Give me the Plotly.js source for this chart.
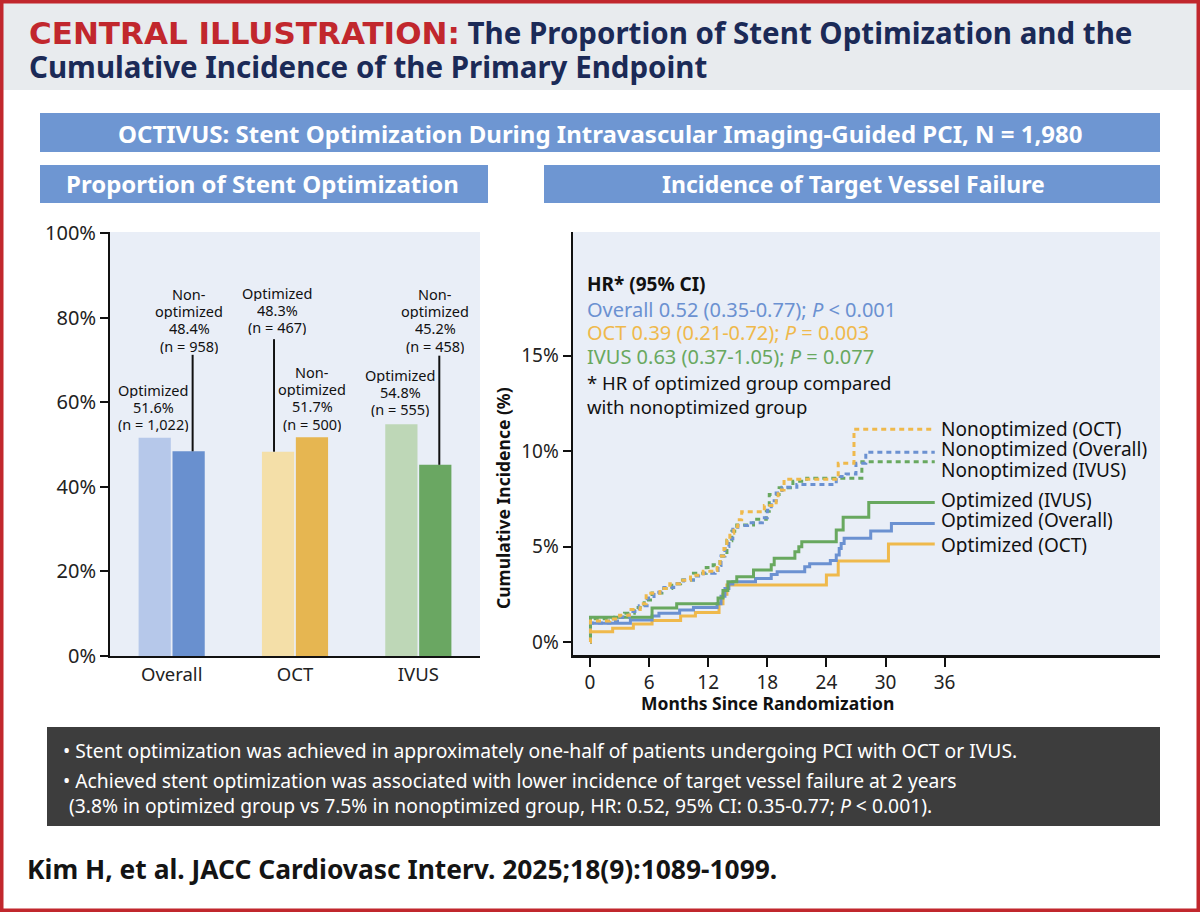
<!DOCTYPE html>
<html><head><meta charset="utf-8">
<script src="https://cdn.plot.ly/plotly-3.0.1.min.js"></script>
<style>html,body{margin:0;padding:0;background:#fff}#chart{width:1200px;height:912px}</style>
</head><body><div id="chart"></div>
<script>
// ---------- DATA ----------
const groups = ['Overall', 'OCT', 'IVUS'];
const optimizedPct = [51.6, 48.3, 54.8];
const optimizedN = ['1,022', '467', '555'];
const nonoptimizedPct = [48.4, 51.7, 45.2];
const nonoptimizedN = ['958', '500', '458'];
const barTicks = [0, 20, 40, 60, 80, 100];
const barTickText = ['0%', '20%', '40%', '60%', '80%', '100%'];

const kmTicksX = [0, 6, 12, 18, 24, 30, 36];
const kmTicksY = [0, 5, 10, 15];
const kmTickTextY = ['0%', '5%', '10%', '15%'];

const optOverallM = [0,0.05,4.1,6.3,7.0,9.1,10.5,12.9,13.3,13.7,14.1,14.5,16.8,18.4,19.0,21.8,22.3,24.4,25.0,25.3,25.5,25.8,28.5,30.6,35.0];
const optOverallV = [0,0.98,1.15,1.36,1.5,1.68,1.8,2.0,2.4,2.8,3.04,3.16,3.33,3.54,3.68,3.94,4.1,4.27,4.55,4.9,5.16,5.43,5.81,6.21,6.21];
const optOctM = [0,0.05,2.3,4.4,6.3,9.2,10.7,13.1,13.5,13.9,24.0,25.2,30.3,35.0];
const optOctV = [0,0.54,0.72,0.94,1.12,1.36,1.54,2.0,2.5,2.98,3.51,4.24,5.13,5.13];
const optIvusM = [0,0.05,6.3,8.8,13.0,13.5,14.0,14.9,16.6,18.4,18.7,20.8,21.2,21.5,25.0,25.7,28.3,35.0];
const optIvusV = [0,1.29,1.78,2.0,2.3,2.7,3.16,3.42,3.77,4.04,4.38,4.73,4.99,5.25,5.86,6.53,7.31,7.31];
const nonOctM = [0,0.05,2.0,3.0,4.0,5.1,5.7,7.1,8.1,9.1,10.2,11.5,12.7,12.9,13.2,13.6,13.9,14.2,14.6,15.0,15.4,17.7,18.9,19.1,19.7,25.2,26.8,35.0];
const nonOctV = [0,1.1,1.2,1.4,1.7,2.0,2.55,2.8,3.05,3.23,3.49,3.7,3.75,4.0,4.5,4.9,5.34,5.7,6.03,6.4,6.82,7.15,7.5,7.96,8.52,9.36,11.14,11.14];
const nonOverallM = [0,0.05,2.0,3.0,4.0,5.0,5.8,6.5,7.5,8.5,9.5,10.5,11.5,12.7,13.0,13.3,13.7,14.1,14.5,15.0,16.0,17.5,18.0,18.4,18.9,19.5,21.0,25.0,26.0,27.0,28.0,35.0];
const nonOverallV = [0,1.0,1.1,1.3,1.6,1.9,2.3,2.6,2.85,3.05,3.25,3.45,3.6,3.75,4.0,4.5,5.0,5.4,5.9,6.1,6.25,6.5,6.9,7.4,7.8,8.1,8.25,8.66,8.8,9.36,9.93,9.93];
const nonIvusM = [0,0.05,2.5,3.5,4.5,5.5,6.3,7.3,8.3,9.2,10.5,11.8,12.5,13.2,13.9,14.4,14.9,16.6,17.9,18.2,19.2,20.6,22.0,27.6,35.0];
const nonIvusV = [0,1.22,1.3,1.5,1.8,2.2,2.57,2.8,3.05,3.25,3.6,3.9,4.04,4.5,5.3,5.8,6.12,6.43,6.85,7.72,8.07,8.42,8.57,9.44,9.44];

const hrGroups = ['Overall', 'OCT', 'IVUS'];
const hrValue = ['0.52', '0.39', '0.63'];
const hrCI = ['0.35-0.77', '0.21-0.72', '0.37-1.05'];
const hrP = ['&lt; 0.001', '= 0.003', '= 0.077'];

// ---------- STYLE ----------
const W = 1200, H = 912;
const P = x => x / W, Q = y => 1 - y / H;
const FONT = 'Noto Sans, Open Sans, sans-serif';
const BLUE = '#6b91d1', ORANGE = '#efb94c', GREEN = '#68a85f';
const lightCols = ['#b6c8ea', '#f4dfa8', '#bed7b7'];
const darkCols = ['#6990cf', '#e6b651', '#6aa762'];
const BANNER = '#6e96d2';

const data = [
  {type:'bar', x: groups, y: optimizedPct, marker:{color: lightCols}, xaxis:'x', yaxis:'y', hoverinfo:'skip'},
  {type:'bar', x: groups, y: nonoptimizedPct, marker:{color: darkCols}, xaxis:'x', yaxis:'y', hoverinfo:'skip'}
];
function km(m, v, col, dashed) {
  return {type:'scatter', mode:'lines', x:m, y:v, xaxis:'x2', yaxis:'y2',
    line:{shape:'hv', color:col, width:3, dash: dashed ? '5px,4px' : 'solid'}, hoverinfo:'skip'};
}
data.push(km(optOctM, optOctV, ORANGE, false));
data.push(km(optOverallM, optOverallV, BLUE, false));
data.push(km(optIvusM, optIvusV, GREEN, false));
data.push(km(nonIvusM, nonIvusV, GREEN, true));
data.push(km(nonOverallM, nonOverallV, BLUE, true));
data.push(km(nonOctM, nonOctV, ORANGE, true));

const ann = [];
function txt(x, y, text, size, color, opts) {
  opts = opts || {};
  const a = {xref:'paper', yref:'paper', x:P(x), y:Q(y), text:text, showarrow:false,
    xanchor: opts.xa || 'center', yanchor:'middle', align: opts.align || 'center',
    textangle: opts.angle || 0, borderpad: 0,
    font:{family: opts.family || FONT, size:size, color:color}};
  if (opts.h) a.height = opts.h;
  ann.push(a);
}
const rects = [];
function rect(x0, y0, x1, y1, fill) {
  rects.push({type:'rect', xref:'paper', yref:'paper', x0:P(x0), x1:P(x1), y0:Q(y1), y1:Q(y0),
    fillcolor:fill, line:{width:0}, layer:'below'});
}

// header
rect(0, 0, 1200, 90, '#e8ebee');
rect(40, 113, 1160, 152, BANNER);
rect(40, 165, 488, 203, BANNER);
rect(544, 165, 1160, 203, BANNER);
rect(47, 727, 1160, 826, '#3d3d3d');

txt(28, 32, '<b><span style="color:#c1272d;font-family:DejaVu Sans;font-size:31px">CENTRAL ILLUSTRATION:</span> The Proportion of Stent Optimization and the</b>', 29.5, '#1b2a57', {xa:'left', align:'left'});
txt(28, 66, '<b>Cumulative Incidence of the Primary Endpoint</b>', 29.5, '#1b2a57', {xa:'left', align:'left'});

txt(600, 133, '<b>OCTIVUS: Stent Optimization During Intravascular Imaging-Guided PCI, N = 1,980</b>', 24, '#fff');
txt(262, 184, '<b>Proportion of Stent Optimization</b>', 24, '#fff');
txt(853, 184, '<b>Incidence of Target Vessel Failure</b>', 23, '#fff');

// bar labels
const optLabelPos = [[153, 389], [277, 292], [400, 374]];
const nonLabelPos = [[189, 293], [312, 371], [435, 293]];
const LS = 17.4;
groups.forEach((g, i) => {
  const o = ['Optimized', optimizedPct[i].toFixed(1) + '%', '(n = ' + optimizedN[i] + ')'];
  o.forEach((t, k) => txt(optLabelPos[i][0], optLabelPos[i][1] + k * LS, t, 14.5, '#111', {h:17}));
  const n = ['Non-', 'optimized', nonoptimizedPct[i].toFixed(1) + '%', '(n = ' + nonoptimizedN[i] + ')'];
  n.forEach((t, k) => txt(nonLabelPos[i][0], nonLabelPos[i][1] + k * LS, t, 14.5, '#111', {h:17}));
});
const leaders = [
  {x: 0 + 0.17, y0: nonoptimizedPct[0], y1: 71.2},
  {x: 1 - 0.17, y0: optimizedPct[1], y1: 74.9},
  {x: 2 + 0.17, y0: nonoptimizedPct[2], y1: 71.0}
];
leaders.forEach(l => rects.push({type:'line', xref:'x', yref:'y', x0:l.x, x1:l.x, y0:l.y0, y1:l.y1,
  line:{color:'#111', width:2}, layer:'above'}));

// HR block
txt(586, 284, '<b>HR* (95% CI)</b>', 19, '#111', {xa:'left'});
const hrCols = [BLUE, ORANGE, GREEN];
const hrY = [309, 332, 356];
hrGroups.forEach((g, i) => txt(586, hrY[i], g + ' ' + hrValue[i] + ' (' + hrCI[i] + '); <i>P</i> ' + hrP[i], 20, hrCols[i], {xa:'left'}));
txt(586, 383, '* HR of optimized group compared', 18.5, '#111', {xa:'left'});
txt(586, 406, 'with nonoptimized group', 18.5, '#111', {xa:'left'});

// curve labels
const curveLabels = [
  ['Nonoptimized (OCT)', 429], ['Nonoptimized (Overall)', 449], ['Nonoptimized (IVUS)', 470],
  ['Optimized (IVUS)', 500], ['Optimized (Overall)', 520], ['Optimized (OCT)', 545]
];
curveLabels.forEach(c => txt(940, c[1], c[0], 19, '#111', {xa:'left', h:20}));

// axis titles
txt(503, 498, '<b>Cumulative Incidence (%)</b>', 17.5, '#111', {angle:-90});
txt(767, 703, '<b>Months Since Randomization</b>', 17.5, '#111');

// bullets
txt(62, 750, '• Stent optimization was achieved in approximately one-half of patients undergoing PCI with OCT or IVUS.', 19.3, '#fff', {xa:'left'});
txt(62, 780, '• Achieved stent optimization was associated with lower incidence of target vessel failure at 2 years', 19.3, '#fff', {xa:'left'});
txt(68, 805, '(3.8% in optimized group vs 7.5% in nonoptimized group, HR: 0.52, 95% CI: 0.35-0.77; <i>P</i> &lt; 0.001).', 19.3, '#fff', {xa:'left'});

// footer
txt(26, 869, '<b>Kim H, et al. JACC Cardiovasc Interv. 2025;18(9):1089-1099.</b>', 26.4, '#141414', {xa:'left'});

// border
rects.push({type:'rect', xref:'paper', yref:'paper', x0:P(1.75), x1:P(1198.25), y0:Q(910.25), y1:Q(1.75),
  line:{color:'#c1272d', width:3.5}, fillcolor:'rgba(0,0,0,0)', layer:'above'});

const tickFont = {family: FONT, size: 19, color: '#222'};
const layout = {
  width: W, height: H, margin:{l:0, r:0, t:0, b:0},
  paper_bgcolor:'#ffffff', plot_bgcolor:'#e9eef7',
  showlegend:false, barmode:'group', bargap:0.45, bargroupgap:0.05,
  xaxis:{domain:[P(110), P(480)], type:'category', range:[-0.5, 2.5], showline:true, linecolor:'#111', linewidth:2,
    ticks:'outside', ticklen:1, tickcolor:'rgba(0,0,0,0)', tickfont:{family:FONT, size:18.5, color:'#222'},
    showgrid:false, zeroline:false, fixedrange:true},
  yaxis:{domain:[Q(656), Q(232)], range:[0, 100 * (656 - 232) / (656 - 233)], tickvals:barTicks, ticktext:barTickText,
    ticks:'outside', ticklen:8, tickwidth:2, tickcolor:'#111', showline:true, linecolor:'#111', linewidth:2,
    tickfont:{family:FONT, size:20, color:'#222'}, showgrid:false, zeroline:false, fixedrange:true},
  xaxis2:{domain:[P(573), P(1160)], anchor:'y2', range:[-(590 - 573) / 9.85, (1160 - 590) / 9.85], tickvals:kmTicksX,
    ticks:'outside', ticklen:9, tickwidth:2, tickcolor:'#111', showline:true, linecolor:'#111', linewidth:2.5,
    tickfont:tickFont, showgrid:false, zeroline:false, fixedrange:true},
  yaxis2:{domain:[Q(655), Q(232)], anchor:'x2', range:[-(655 - 642) / 19.1, (642 - 232) / 19.1], tickvals:kmTicksY, ticktext:kmTickTextY,
    ticks:'outside', ticklen:8, tickwidth:2, tickcolor:'#111', showline:true, linecolor:'#111', linewidth:2.5,
    tickfont:tickFont, showgrid:false, zeroline:false, fixedrange:true},
  shapes: rects,
  annotations: ann
};
Plotly.newPlot('chart', data, layout, {staticPlot:true, displayModeBar:false});
</script></body></html>
